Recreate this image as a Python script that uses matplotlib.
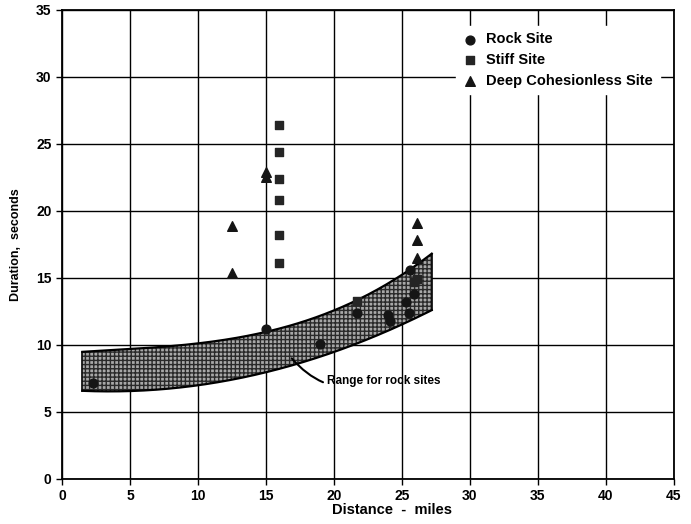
import numpy as np
import matplotlib.pyplot as plt

plt.rcParams['font.family'] = ['Liberation Sans', 'DejaVu Sans']

# data
rock_x = [2.3, 15.0, 19.0, 21.7, 24.0, 24.1, 25.3, 25.5, 25.6, 25.9]
rock_y = [7.2, 11.2, 10.1, 12.4, 12.2, 11.8, 13.2, 12.4, 15.6, 13.8]
stiff_x = [16.0, 16.0, 16.0, 16.0, 16.0, 16.0, 21.7, 25.9, 26.1]
stiff_y = [26.4, 24.4, 22.4, 20.8, 18.2, 16.1, 13.3, 14.7, 14.9]
deep_x = [12.5, 12.5, 15.0, 15.0, 26.1, 26.1, 26.1]
deep_y = [18.9, 15.4, 22.9, 22.5, 19.1, 17.8, 16.5]

# range for rock sites (band)
band_x = [1.5, 5, 10, 15, 20, 25, 27.2]
band_lo = [6.5, 6.7, 7.0, 7.8, 9.6, 11.5, 12.6]
band_hi = [9.5, 9.7, 10.0, 11.2, 12.4, 15.3, 16.8]

fig = plt.figure(figsize=(6.91, 5.24), dpi=100)
ax = fig.add_axes([0.0897, 0.0859, 0.8853, 0.8951])

ax.set_xlim(0, 45)
ax.set_ylim(0, 35)
ax.set_xticks(range(0, 46, 5))
ax.set_yticks(range(0, 36, 5))
ax.grid(True, color='black', linewidth=1.0)
ax.set_axisbelow(True)
for s in ax.spines.values():
    s.set_linewidth(1.3)

# smooth curves through the band edges
xs = np.linspace(band_x[0], band_x[-1], 200)
lo = np.polyval(np.polyfit(band_x, band_lo, 2), xs)
hi = np.polyval(np.polyfit(band_x, band_hi, 3), xs)
ax.fill_between(xs, lo, hi, facecolor='#a8a8a8', edgecolor='#2a2a2a',
                hatch='++++', linewidth=0, zorder=2)
ax.plot(xs, lo, color='black', lw=1.6, zorder=3)
ax.plot(xs, hi, color='black', lw=1.6, zorder=3)
ax.plot([xs[0], xs[0]], [lo[0], hi[0]], color='black', lw=1.2, zorder=3)
ax.plot([xs[-1], xs[-1]], [lo[-1], hi[-1]], color='black', lw=1.2, zorder=3)

ax.scatter(rock_x, rock_y, marker='o', s=40, color='#151515', zorder=4, label='Rock Site')
ax.scatter(stiff_x, stiff_y, marker='s', s=32, color='#252525', zorder=4, label='Stiff Site')
ax.scatter(deep_x, deep_y, marker='^', s=48, color='#151515', zorder=4, label='Deep Cohesionless Site')

ax.annotate('Range for rock sites', xy=(16.9, 9.0), xytext=(19.5, 7.3),
            fontsize=8.5, fontweight='bold', va='center',
            arrowprops=dict(arrowstyle='-', color='black', lw=1.5,
                            shrinkA=1, shrinkB=0,
                            connectionstyle='arc3,rad=-0.35'))

leg = ax.legend(loc='upper right', bbox_to_anchor=(0.977, 0.966), frameon=True,
                fancybox=False, edgecolor='white', facecolor='white', framealpha=1,
                prop={'size': 10.5, 'weight': 'bold'}, handletextpad=0.6,
                labelspacing=0.45, borderpad=0.45, borderaxespad=0, handlelength=1.0)

ax.tick_params(labelsize=10, length=4, width=1)
for lab in ax.get_xticklabels() + ax.get_yticklabels():
    lab.set_fontweight('bold')
ax.set_xlabel('Distance  -  miles', fontsize=10.5, fontweight='bold')
ax.xaxis.set_label_coords(0.54, -0.052)
ax.set_ylabel('Duration,  seconds', fontsize=9, fontweight='bold', labelpad=10)

fig.savefig('out.png', dpi=100)
